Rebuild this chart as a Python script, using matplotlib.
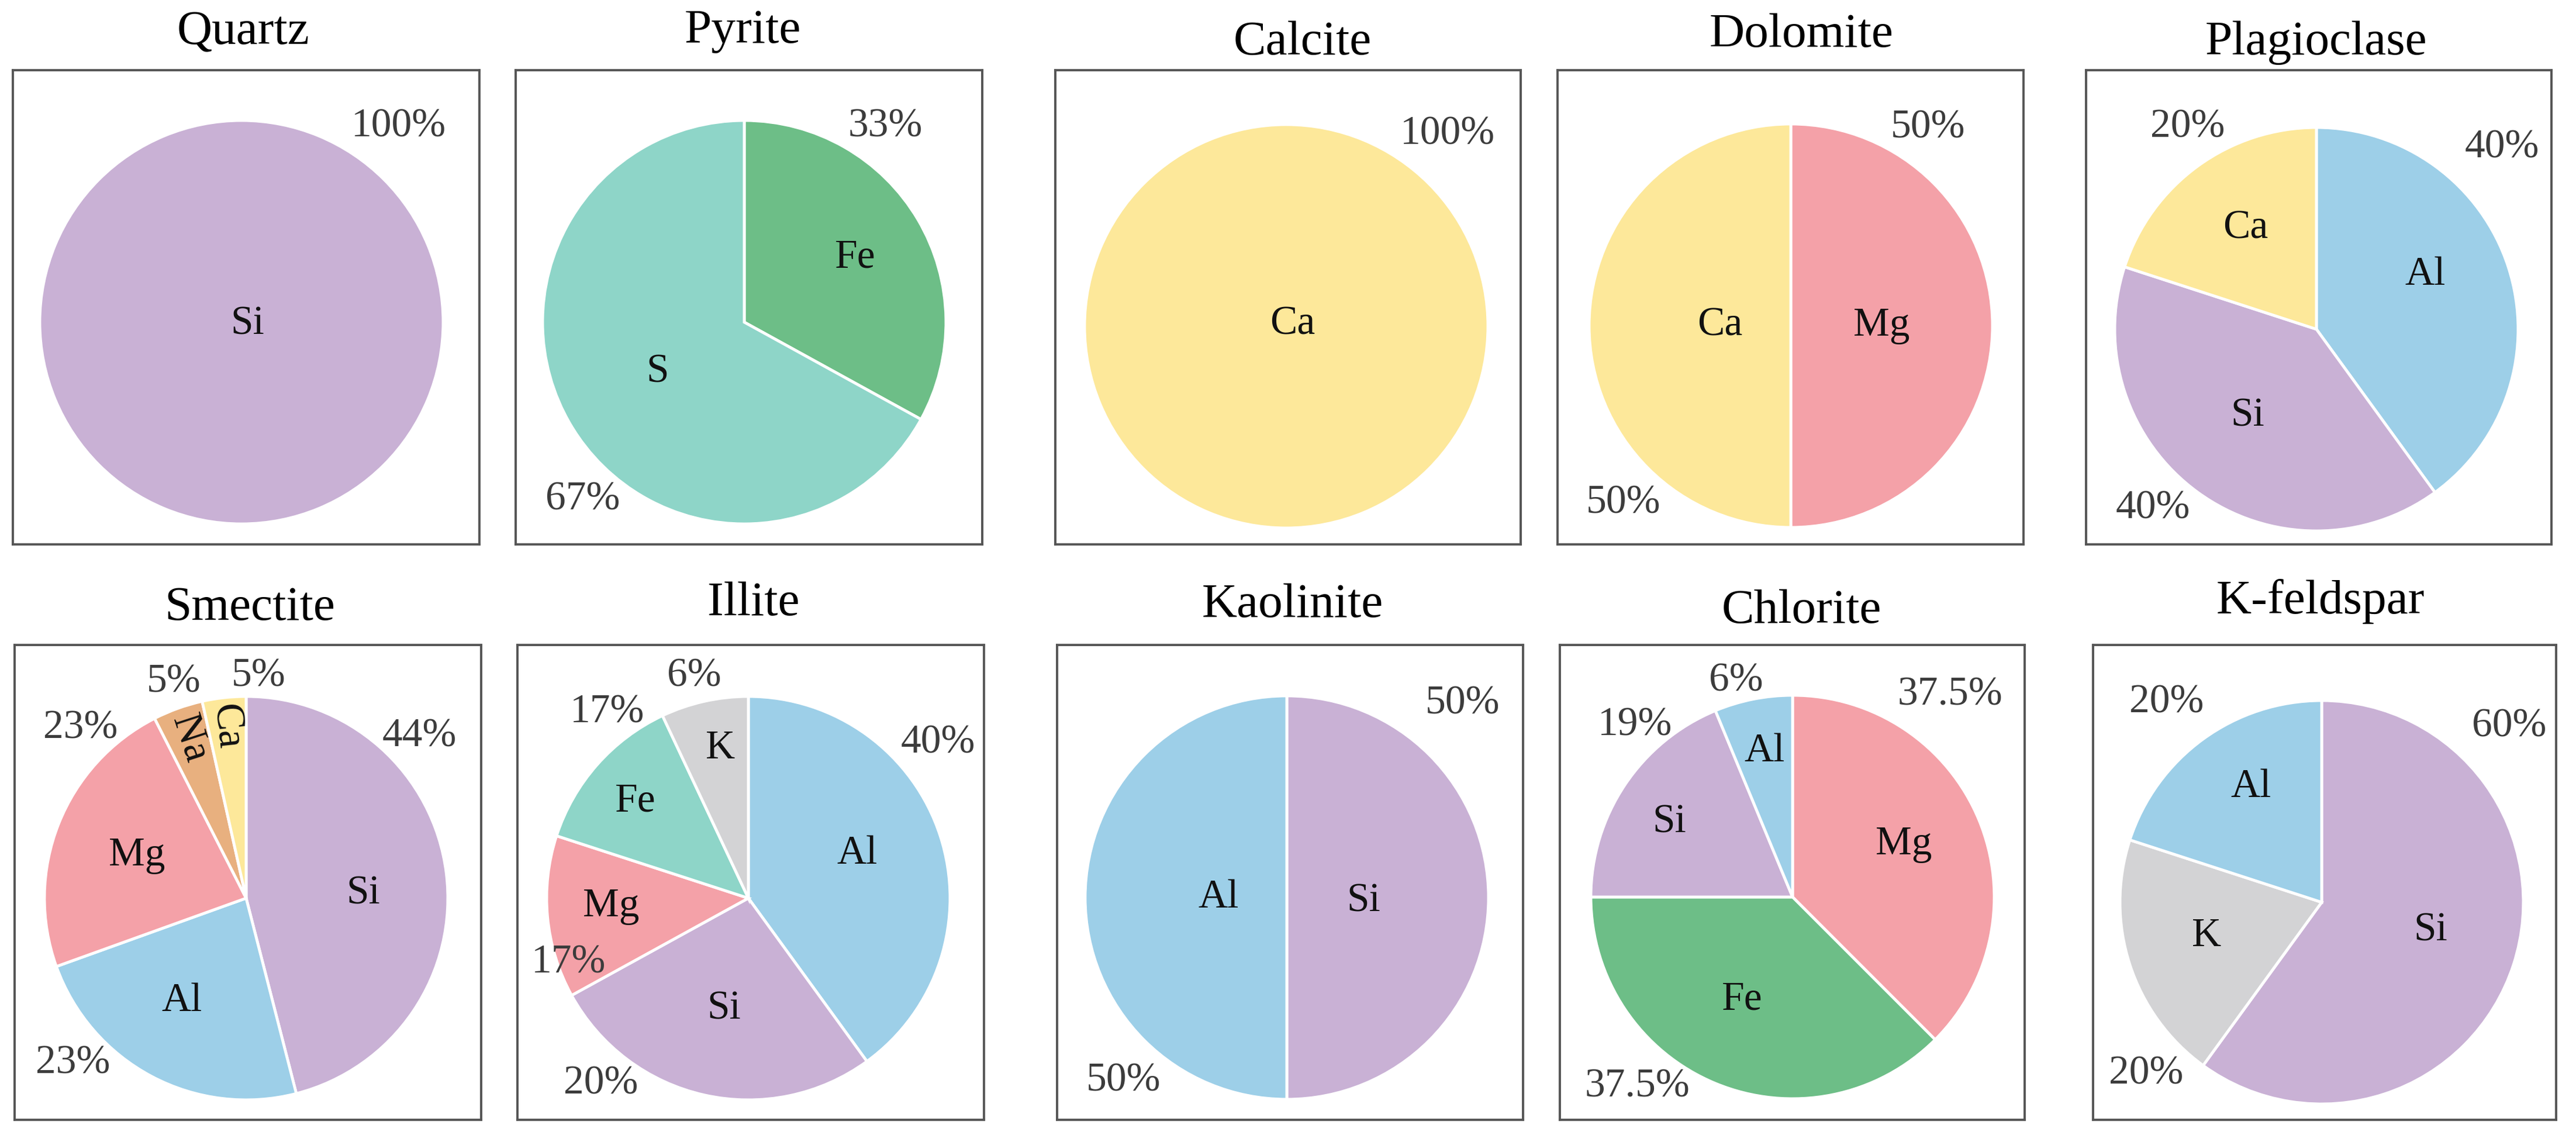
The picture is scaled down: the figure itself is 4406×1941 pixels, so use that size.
import matplotlib
matplotlib.use("Agg")
import matplotlib.pyplot as plt

plt.rcParams['font.family'] = ['Liberation Serif', 'DejaVu Serif']

W, H = 4406, 1941
DPI = 100
R = 345  # pie radius in pixels

minerals = ["Quartz", "Pyrite", "Calcite", "Dolomite", "Plagioclase",
            "Smectite", "Illite", "Kaolinite", "Chlorite", "K-feldspar"]

# elements, clockwise from 12 o'clock
elements = {
    "Quartz": ["Si"],
    "Pyrite": ["Fe", "S"],
    "Calcite": ["Ca"],
    "Dolomite": ["Mg", "Ca"],
    "Plagioclase": ["Al", "Si", "Ca"],
    "Smectite": ["Si", "Al", "Mg", "Na", "Ca"],
    "Illite": ["Al", "Si", "Mg", "Fe", "K"],
    "Kaolinite": ["Si", "Al"],
    "Chlorite": ["Mg", "Fe", "Si", "Al"],
    "K-feldspar": ["Si", "K", "Al"],
}

# slice sizes as drawn (%)
shares = {
    "Quartz": [100],
    "Pyrite": [33, 67],
    "Calcite": [100],
    "Dolomite": [50, 50],
    "Plagioclase": [40, 40, 20],
    "Smectite": [46, 23.5, 23, 4, 3.5],
    "Illite": [40, 27, 13, 13, 7],
    "Kaolinite": [50, 50],
    "Chlorite": [37.5, 37.5, 18.75, 6.25],
    "K-feldspar": [60, 20, 20],
}

# printed percentage labels
pct_text = {
    "Quartz": ["100%"],
    "Pyrite": ["33%", "67%"],
    "Calcite": ["100%"],
    "Dolomite": ["50%", "50%"],
    "Plagioclase": ["40%", "40%", "20%"],
    "Smectite": ["44%", "23%", "23%", "5%", "5%"],
    "Illite": ["40%", "20%", "17%", "17%", "6%"],
    "Kaolinite": ["50%", "50%"],
    "Chlorite": ["37.5%", "37.5%", "19%", "6%"],
    "K-feldspar": ["60%", "20%", "20%"],
}

element_colors = {
    "Si": "#c9b1d5",
    "Fe": "#6dbe87",
    "S": "#8ed5c8",
    "Ca": "#fde89a",
    "Mg": "#f4a1a8",
    "Al": "#9dcfe8",
    "Na": "#e8b07f",
    "K": "#d3d3d5",
}
color_override = {("Illite", "Fe"): "#8ed5c8"}

# ---- layout (pixels, y from top) ----
boxes = {
    "Quartz": (22, 120, 820, 931),
    "Pyrite": (882, 120, 1680, 931),
    "Calcite": (1805, 120, 2601, 931),
    "Dolomite": (2664, 120, 3461, 931),
    "Plagioclase": (3568, 120, 4364, 931),
    "Smectite": (25, 1103, 823, 1915),
    "Illite": (885, 1103, 1683, 1915),
    "Kaolinite": (1808, 1103, 2605, 1915),
    "Chlorite": (2668, 1103, 3463, 1915),
    "K-feldspar": (3580, 1103, 4372, 1915),
}
centers = {
    "Quartz": (413, 551), "Pyrite": (1273, 551), "Calcite": (2200, 558),
    "Dolomite": (3063, 557), "Plagioclase": (3962, 563),
    "Smectite": (421, 1536), "Illite": (1280, 1536), "Kaolinite": (2201, 1535),
    "Chlorite": (3066, 1534), "K-feldspar": (3971, 1543),
}
titles_at = {
    "Quartz": (416, 75), "Pyrite": (1270, 73), "Calcite": (2228, 93),
    "Dolomite": (3081, 80), "Plagioclase": (3961, 93),
    "Smectite": (427, 1060), "Illite": (1289, 1052), "Kaolinite": (2211, 1055),
    "Chlorite": (3081, 1065), "K-feldspar": (3969, 1049),
}
# label offsets in pie radii
pct_pos = {
    "Quartz": [(0.78, 0.97)],
    "Pyrite": [(0.70, 0.97), (-0.80, -0.88)],
    "Calcite": [(0.80, 0.95)],
    "Dolomite": [(0.68, 0.98), (-0.83, -0.88)],
    "Plagioclase": [(0.92, 0.90), (-0.81, -0.89), (-0.64, 1.0)],
    "Smectite": [(0.86, 0.80), (-0.86, -0.82), (-0.82, 0.84), (-0.36, 1.07), (0.06, 1.10)],
    "Illite": [(0.94, 0.77), (-0.73, -0.92), (-0.89, -0.32), (-0.70, 0.92), (-0.27, 1.10)],
    "Kaolinite": [(0.87, 0.96), (-0.81, -0.91)],
    "Chlorite": [(0.78, 1.0), (-0.77, -0.94), (-0.78, 0.85), (-0.28, 1.07)],
    "K-feldspar": [(0.93, 0.87), (-0.87, -0.85), (-0.77, 0.99)],
}
name_pos = {
    "Quartz": [(0.03, -0.01)],
    "Pyrite": [(0.55, 0.32), (-0.43, -0.25)],
    "Calcite": [(0.03, 0.01)],
    "Dolomite": [(0.45, 0.0), (-0.35, 0.0)],
    "Plagioclase": [(0.54, 0.27), (-0.34, -0.43), (-0.35, 0.50)],
    "Smectite": [(0.58, 0.02), (-0.32, -0.51), (-0.54, 0.21), (-0.28, 0.79), (-0.10, 0.85)],
    "Illite": [(0.54, 0.22), (-0.12, -0.55), (-0.68, -0.04), (-0.56, 0.48), (-0.14, 0.74)],
    "Kaolinite": [(0.38, -0.02), (-0.34, 0.0)],
    "Chlorite": [(0.55, 0.26), (-0.25, -0.51), (-0.61, 0.37), (-0.14, 0.72)],
    "K-feldspar": [(0.54, -0.14), (-0.57, -0.17), (-0.35, 0.57)],
}
name_rot = {("Smectite", "Na"): -72, ("Smectite", "Ca"): -84}

fig = plt.figure(figsize=(W / DPI, H / DPI), dpi=DPI)

for m in minerals:
    x0, y0, x1, y1 = boxes[m]
    cx, cy = centers[m]
    ax = fig.add_axes([x0 / W, 1 - y1 / H, (x1 - x0) / W, (y1 - y0) / H])
    cols = [color_override.get((m, e), element_colors[e]) for e in elements[m]]
    ax.pie(shares[m], colors=cols, radius=R, startangle=90, counterclock=False,
           wedgeprops=dict(edgecolor="white", linewidth=3.5), frame=True)
    ax.set_aspect("auto")
    ax.set_xlim(x0 - cx, x1 - cx)
    ax.set_ylim(cy - y1, cy - y0)
    ax.set_xticks([])
    ax.set_yticks([])
    for s in ax.spines.values():
        s.set_color("#555555")
        s.set_linewidth(2.8)

    for e, (dx, dy) in zip(elements[m], name_pos[m]):
        ax.text(dx * R, dy * R, e, ha="center", va="center", fontsize=50,
                color="#111111", rotation=name_rot.get((m, e), 0))
    for t, (dx, dy) in zip(pct_text[m], pct_pos[m]):
        ax.text(dx * R, dy * R, t, ha="center", va="center", fontsize=50,
                color="#3c3c3c", clip_on=False)

    tx, tb = titles_at[m]
    fig.text(tx / W, 1 - tb / H, m, ha="center", va="baseline", fontsize=60)

fig.savefig("out.png", dpi=DPI, facecolor="white")
